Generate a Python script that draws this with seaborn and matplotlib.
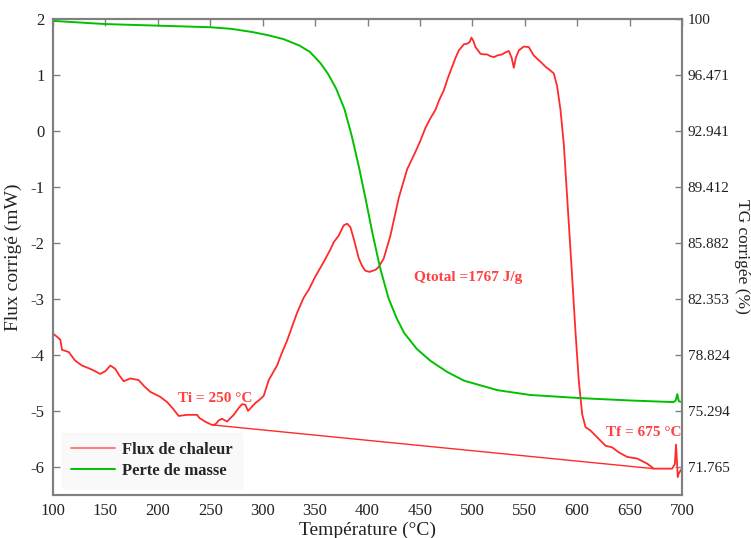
import numpy as np
import pandas as pd
import matplotlib
matplotlib.use("Agg")
import matplotlib.pyplot as plt
import seaborn as sns

# ---------------- data ----------------
temp_flux = [100, 104, 107, 108.6, 115, 121, 127.6, 135.6, 141, 145,
             150, 154.7, 159.4, 163, 167.4, 173.8, 181.7, 187, 192.8, 202.4,
             208.7, 214, 219.9, 228, 237.4, 239.9, 246, 251.7, 254.9, 258,
             261.2, 266, 272.4, 277, 280.3, 283.5, 286, 290, 293, 297,
             301, 305.8, 313.7, 318, 323.2, 328, 332.8, 339.1, 343.9, 350.3,
             358.3, 364.6, 367.8, 372.6, 377.3, 380.5, 383.7, 386.9, 391.7, 395,
             398, 402, 405, 408, 410.7, 415.5, 421.9, 429.8, 437.8, 445.7,
             450, 455.3, 460, 464.8, 468.5, 472.8, 476.5, 480.7, 484, 487.1,
             491.9, 495, 497.5, 499.2, 501, 503, 507.8, 511, 514.1, 517,
             520.5, 523.7, 528.4, 532, 534.8, 537.5, 539.6, 541.5, 544.3, 549.1,
             553.9, 558.6, 562, 565, 569.8, 574, 577.7, 580.9, 584.1, 587.3,
             590.4, 592.5, 595.2, 598.4, 601.6, 604.8, 608, 612.7, 619.1, 627,
             633.4, 639.8, 647.7, 657.3, 666.8, 673.2, 682.7, 690.6, 693.2, 694.3,
             695.2, 696, 696.8, 697.8, 699, 700]
flux = [-3.62, -3.68, -3.73, -3.91, -3.95, -4.10, -4.19, -4.25, -4.30, -4.34,
        -4.29, -4.19, -4.25, -4.36, -4.47, -4.42, -4.45, -4.56, -4.66, -4.75,
        -4.84, -4.95, -5.09, -5.07, -5.07, -5.13, -5.20, -5.25, -5.24, -5.17,
        -5.14, -5.19, -5.07, -4.95, -4.88, -4.89, -5.00, -4.92, -4.86, -4.80,
        -4.73, -4.45, -4.19, -3.98, -3.75, -3.50, -3.25, -2.98, -2.84, -2.60,
        -2.34, -2.12, -1.99, -1.87, -1.69, -1.66, -1.72, -1.93, -2.28, -2.42,
        -2.50, -2.52, -2.50, -2.48, -2.43, -2.28, -1.87, -1.20, -0.69, -0.38,
        -0.20, 0.05, 0.22, 0.37, 0.55, 0.72, 0.93, 1.14, 1.30, 1.43,
        1.54, 1.55, 1.58, 1.66, 1.60, 1.49, 1.37, 1.36, 1.36, 1.33,
        1.31, 1.34, 1.36, 1.40, 1.42, 1.30, 1.12, 1.30, 1.43, 1.50,
        1.49, 1.34, 1.28, 1.23, 1.14, 1.08, 1.02, 0.79, 0.37, -0.25,
        -1.16, -1.75, -2.60, -3.59, -4.47, -5.06, -5.29, -5.35, -5.47, -5.62,
        -5.65, -5.74, -5.82, -5.85, -5.94, -6.03, -6.03, -6.03, -5.95, -5.60,
        -5.90, -6.18, -6.12, -6.09, -6.05, -6.05]

temp_tg = [100, 125, 150, 175, 200, 225, 250, 270, 290, 305,
           320, 335, 345, 355, 362, 370, 378, 385, 392, 398,
           405, 412, 420, 428, 435, 447, 460, 476, 492, 508,
           524, 555, 603, 651, 692, 694, 695.5, 697, 700]
tg = [99.85, 99.75, 99.65, 99.6, 99.55, 99.5, 99.45, 99.35, 99.15, 98.95,
      98.7, 98.3, 97.9, 97.2, 96.55, 95.6, 94.3, 92.6, 90.6, 88.7,
      86.4, 84.3, 82.4, 81.1, 80.2, 79.2, 78.45, 77.75, 77.2, 76.9,
      76.6, 76.3, 76.1, 75.95, 75.85, 75.95, 76.35, 75.9, 75.85]

temp_base = [252, 673]
flux_base = [-5.25, -6.03]

flux_ticks = [2, 1, 0, -1, -2, -3, -4, -5, -6]
tg_ticks = [100, 96.471, 92.941, 89.412, 85.882, 82.353, 78.824, 75.294, 71.765]
tg_tick_labels = ["100", "96.471", "92.941", "89.412", "85.882", "82.353",
                  "78.824", "75.294", "71.765"]
temp_ticks = [100, 150, 200, 250, 300, 350, 400, 450, 500, 550, 600, 650, 700]

series_labels = ["Flux de chaleur", "Perte de masse"]

# ---------------- style ----------------
sns.set_theme(style="white")
plt.rcParams["font.family"] = ["Liberation Serif", "DejaVu Serif"]
plt.rcParams["axes.unicode_minus"] = False

red = "#ff2a2a"
green = "#00c000"
spine_col = "#808080"
txt_col = "#222222"

fig = plt.figure(figsize=(7.51, 5.38), dpi=100)
ax = fig.add_axes([0.0706, 0.0799, 0.8375, 0.8857])

df_flux = pd.DataFrame({"T": temp_flux, "flux": flux})
df_tg = pd.DataFrame({"T": temp_tg, "tg": tg})
df_base = pd.DataFrame({"T": temp_base, "flux": flux_base})

sns.lineplot(data=df_flux, x="T", y="flux", ax=ax, color=red, lw=1.3,
             label=series_labels[0], legend=False)
sns.lineplot(data=df_base, x="T", y="flux", ax=ax, color=red, lw=1.0,
             legend=False)

ax2 = ax.twinx()
sns.lineplot(data=df_tg, x="T", y="tg", ax=ax2, color=green, lw=1.4,
             label=series_labels[1], legend=False)

ax.set_xlim(100, 700)
ax.set_ylim(-6.5, 2)
ax2.set_ylim(70, 100)
ax.set_xticks(temp_ticks)
ax.set_yticks(flux_ticks)
ax2.set_yticks(tg_ticks)
ax2.set_yticklabels(tg_tick_labels)

for a in (ax, ax2):
    for s in a.spines.values():
        s.set_color(spine_col)
        s.set_linewidth(1.5)
ax.tick_params(axis="both", direction="in", length=5, width=1, color=spine_col,
               labelsize=12, top=True, labelcolor=txt_col, pad=6)
ax2.tick_params(axis="y", direction="in", length=5, width=1, color=spine_col,
                labelsize=11, labelcolor=txt_col, pad=4)

ax.set_xlabel("Température (°C)", fontsize=14, color=txt_col, labelpad=2)
ax.set_ylabel("Flux corrigé (mW)", fontsize=14, color=txt_col, labelpad=6)
ylab2 = ax2.set_ylabel("TG corrigée (%)", fontsize=12.5, color=txt_col,
                       rotation=270, ha="center", va="center")
ax2.yaxis.set_label_coords((742 - 53) / 629, 0.5)

# annotations
ann_col = "#ff4040"
ax.text(255, -4.77, "Ti = 250 °C", color=ann_col, fontsize=11,
        fontweight="bold", ha="center", va="center")
ax.text(664, -5.38, "Tf = 675 °C", color=ann_col, fontsize=11,
        fontweight="bold", ha="center", va="center")
ax.text(496, -2.62, "Qtotal =1767 J/g", color=ann_col, fontsize=11,
        fontweight="bold", ha="center", va="center")

# legend
h1, l1 = ax.get_legend_handles_labels()
h2, l2 = ax2.get_legend_handles_labels()
leg = ax2.legend(h1 + h2, l1 + l2, loc="lower left",
                 bbox_to_anchor=(9 / 629, 7 / 476), borderaxespad=0,
                 frameon=True, prop={"weight": "bold", "size": 12},
                 handlelength=2.6, handletextpad=0.45, borderpad=0.55,
                 labelspacing=0.3, fancybox=False)
leg.get_frame().set_facecolor("#f8f8f8")
leg.get_frame().set_edgecolor("#f8f8f8")
leg.get_lines()[0].set_color("#ff7070")

fig.savefig("out.png", dpi=100)
